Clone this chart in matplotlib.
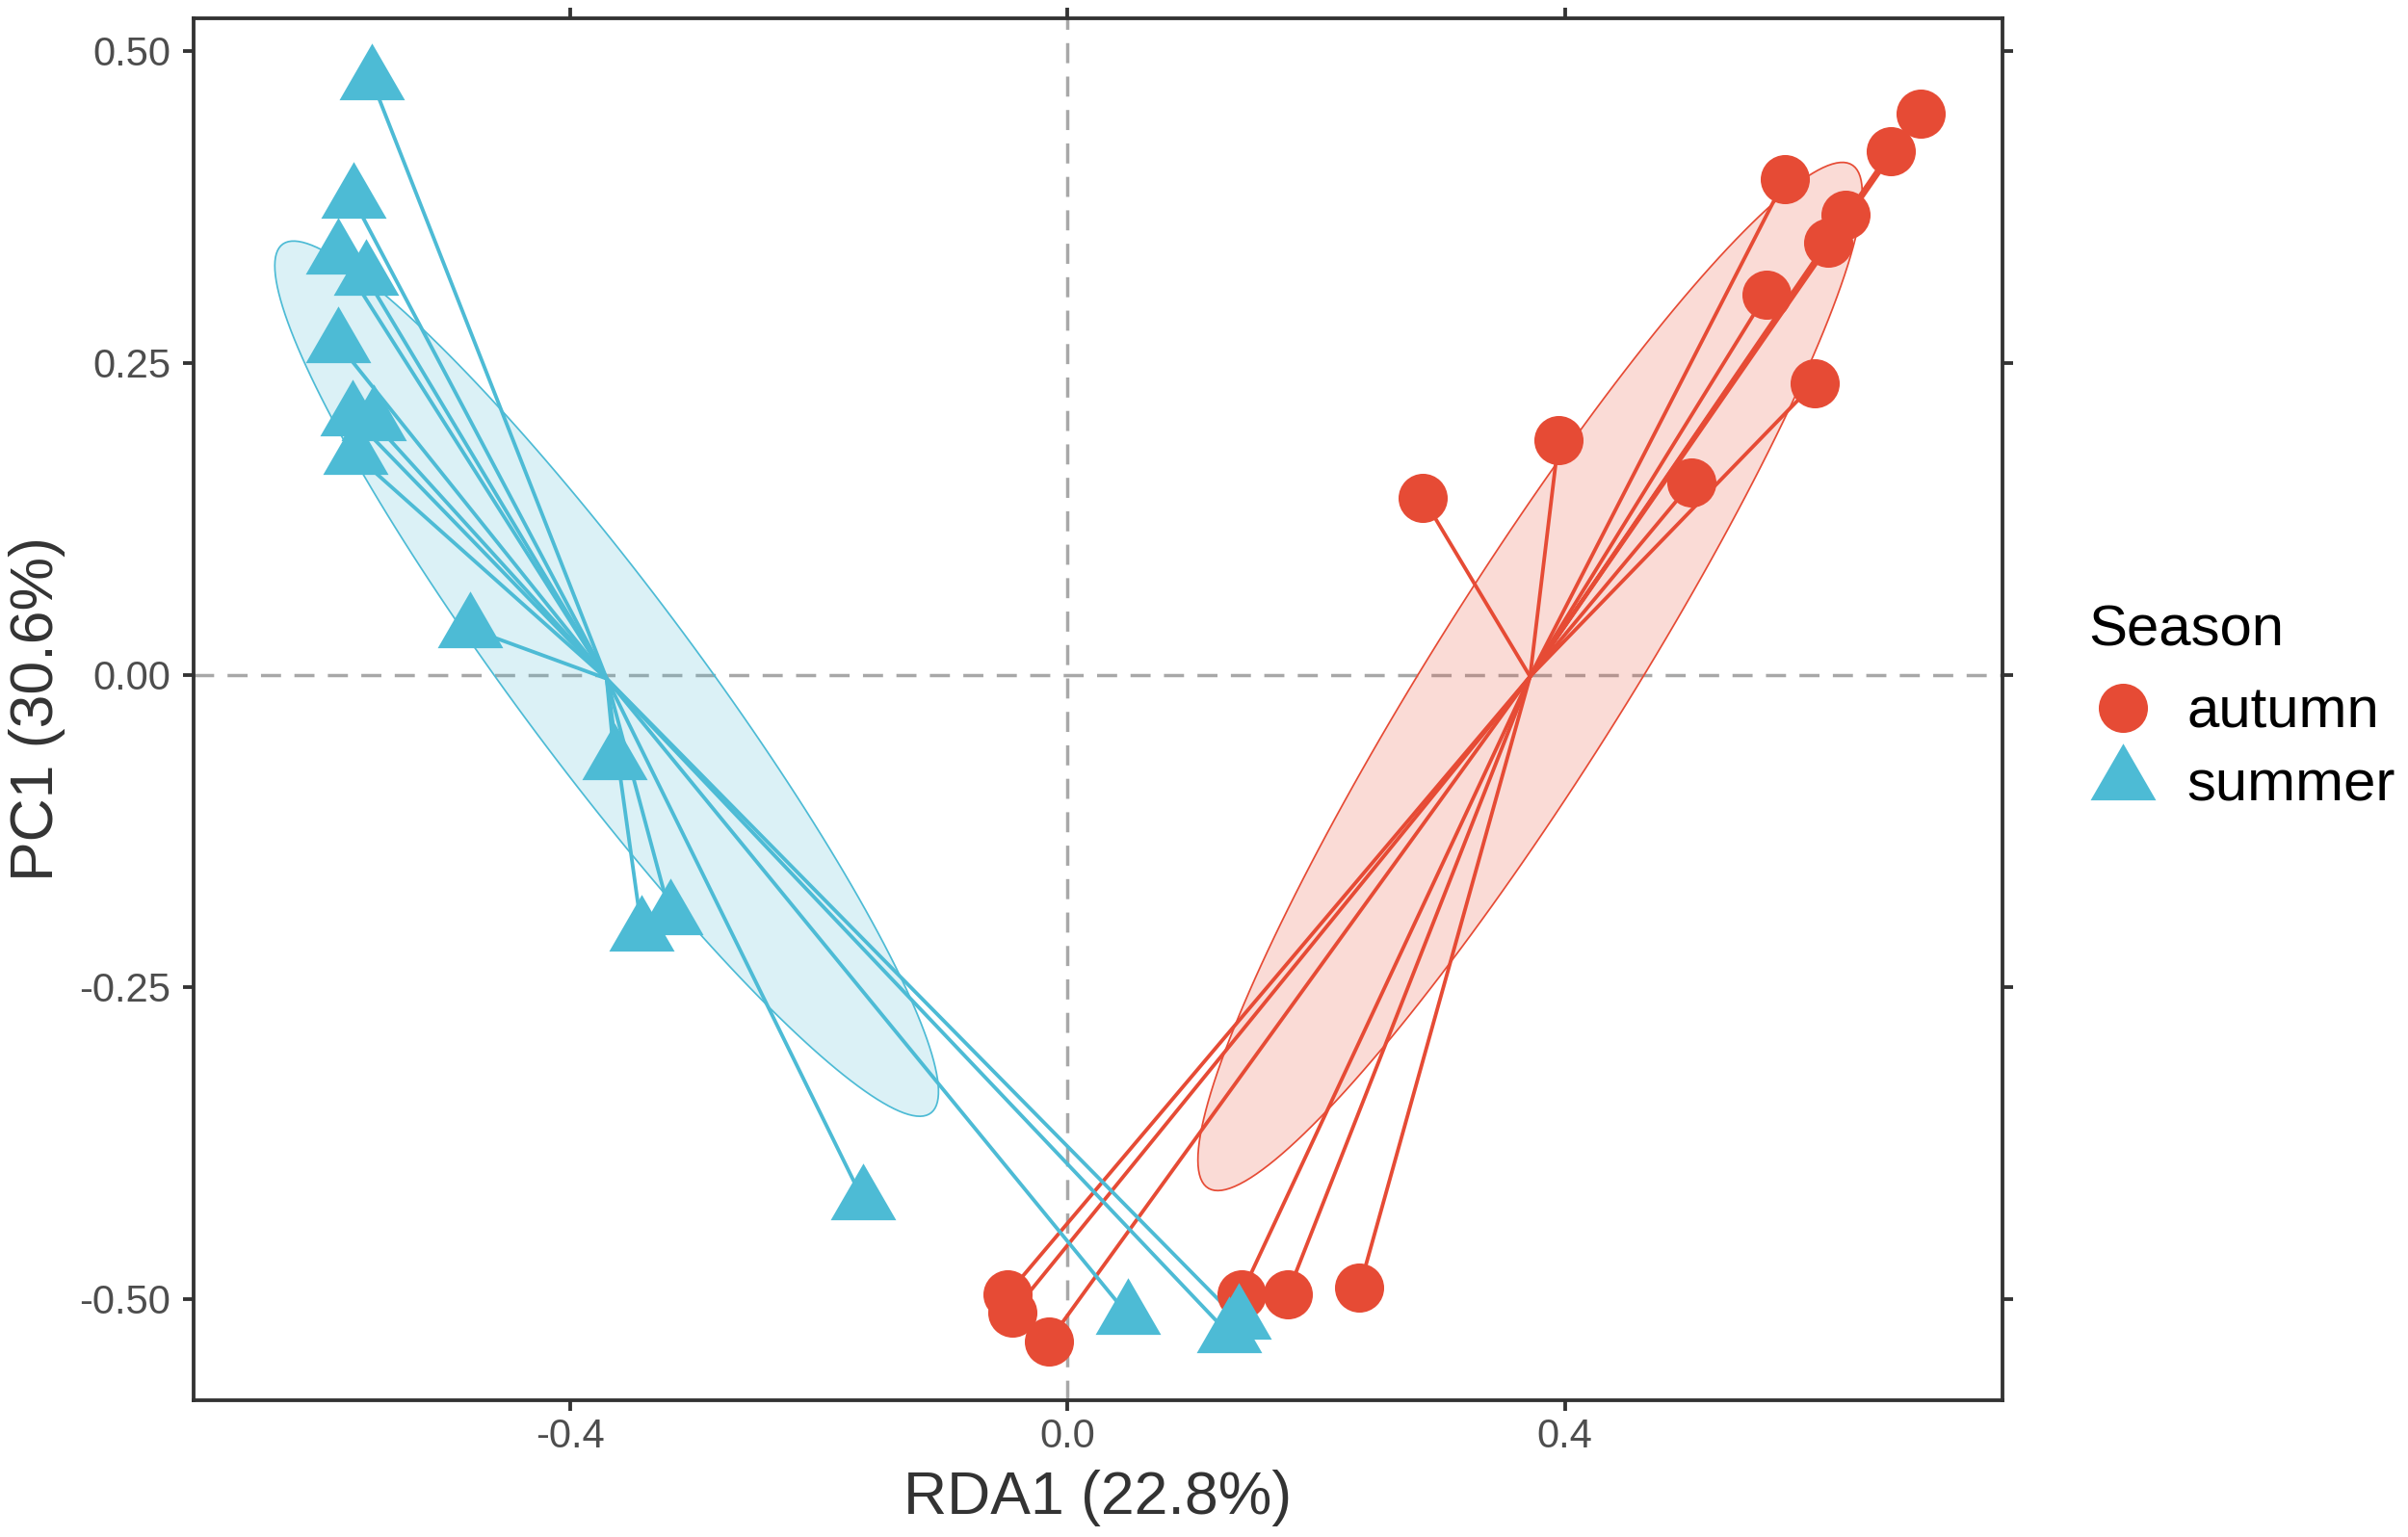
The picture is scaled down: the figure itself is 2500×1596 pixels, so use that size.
import numpy as np
import matplotlib
matplotlib.use("Agg")
import matplotlib.pyplot as plt
from matplotlib.lines import Line2D
from matplotlib.patches import Polygon

plt.rcParams['font.family'] = ['Liberation Sans', 'DejaVu Sans']

# ---- data ----
summer_x = [-0.559, -0.574, -0.586, -0.564, -0.586, -0.575, -0.558, -0.572,
            -0.480, -0.364, -0.342, -0.319, -0.164, 0.049, 0.138, 0.130]
summer_y = [0.476, 0.381, 0.336, 0.319, 0.265, 0.207, 0.203, 0.176,
            0.037, -0.069, -0.206, -0.193, -0.421, -0.513, -0.517, -0.528]
autumn_x = [0.686, 0.662, 0.577, 0.626, 0.612, 0.562, 0.601, 0.395,
            0.502, 0.286, -0.048, -0.044, -0.015, 0.140, 0.177, 0.235]
autumn_y = [0.450, 0.420, 0.397, 0.369, 0.346, 0.305, 0.234, 0.188,
            0.154, 0.142, -0.496, -0.511, -0.534, -0.496, -0.496, -0.491]
groups = ['autumn', 'summer']
colors = {'autumn': '#E64B35', 'summer': '#4DBBD5'}
x_ticks = [-0.4, 0.0, 0.4]
y_ticks = [-0.50, -0.25, 0.00, 0.25, 0.50]
xlabel = 'RDA1 (22.8%)'
ylabel = 'PC1 (30.6%)'
legend_title = 'Season'

data = {'autumn': (np.array(autumn_x), np.array(autumn_y)),
        'summer': (np.array(summer_x), np.array(summer_y))}

fig = plt.figure(figsize=(10, 6.384), dpi=250)
ax = fig.add_axes([0.0804, 0.089, 0.8316 - 0.0804, 0.988 - 0.089])

ellipse_scale = 1.0

def ellipse_pts(x, y, scale, n=200):
    cov = np.cov(x, y)
    vals, vecs = np.linalg.eigh(cov)
    t = np.linspace(0, 2 * np.pi, n)
    circ = np.vstack([np.cos(t), np.sin(t)])
    pts = vecs @ (np.sqrt(vals)[:, None] * scale * circ)
    return pts[0] + x.mean(), pts[1] + y.mean()

tri = [(0, 1), (0.866, -0.5), (-0.866, -0.5)]

for g in groups:
    x, y = data[g]
    ex, ey = ellipse_pts(x, y, ellipse_scale)
    c = colors[g]
    ax.add_patch(Polygon(np.column_stack([ex, ey]), closed=True,
                         facecolor=c, alpha=0.2, edgecolor='none', zorder=1))
    ax.add_patch(Polygon(np.column_stack([ex, ey]), closed=True,
                         facecolor='none', edgecolor=c, lw=0.5, zorder=1.5))

ax.axvline(0, color='#A8A8A8', lw=1.0, ls=(0, (6, 4)), zorder=0.5)
ax.axhline(0, color='#A8A8A8', lw=1.0, ls=(0, (6, 4)), zorder=0.5)

for g in groups:
    x, y = data[g]
    cx, cy = x.mean(), y.mean()
    for xi, yi in zip(x, y):
        ax.plot([cx, xi], [cy, yi], color=colors[g], lw=1.1, zorder=2,
                solid_capstyle='butt')

handles = []
for g in groups:
    x, y = data[g]
    if g == 'autumn':
        ax.plot(x, y, 'o', ms=14.7, color=colors[g], mec='none', zorder=3)
        handles.append(Line2D([], [], marker='o', ls='none', ms=14.7,
                              color=colors[g], mec='none'))
    else:
        ax.plot(x, y, marker=tri, ls='none', ms=22.6, color=colors[g],
                mec='none', zorder=3)
        handles.append(Line2D([], [], marker=tri, ls='none', ms=22.6,
                              color=colors[g], mec='none'))

ax.set_xlim(-0.7025, 0.752)
ax.set_ylim(-0.581, 0.526)
ax.set_xticks(x_ticks)
ax.set_xticklabels([f'{v:.1f}' for v in x_ticks])
ax.set_yticks(y_ticks)
ax.set_yticklabels([f'{v:.2f}' for v in y_ticks])
ax.tick_params(axis='both', direction='out', length=3.3, width=1.1,
               color='#333333', labelsize=12, labelcolor='#4D4D4D',
               top=True, right=True)
ax.tick_params(axis='y', pad=3.5)
ax.tick_params(axis='x', pad=2.0)
for s in ax.spines.values():
    s.set_color('#333333')
    s.set_linewidth(1.1)
ax.set_xlabel(xlabel, fontsize=18, color='#333333', labelpad=4)
ax.set_ylabel(ylabel, fontsize=18, color='#333333', labelpad=4)

fig.text(0.8672, 0.5802, legend_title, fontsize=17.3, color='black',
         ha='left', va='baseline')
leg = fig.legend(handles, groups, loc='center left',
                 bbox_to_anchor=(0.8696, 0.5125), frameon=False,
                 fontsize=17.3, handletextpad=0.6,
                 labelspacing=0.35, handlelength=1.0, borderaxespad=0,
                 borderpad=0)

fig.savefig('out.png', dpi=250)
